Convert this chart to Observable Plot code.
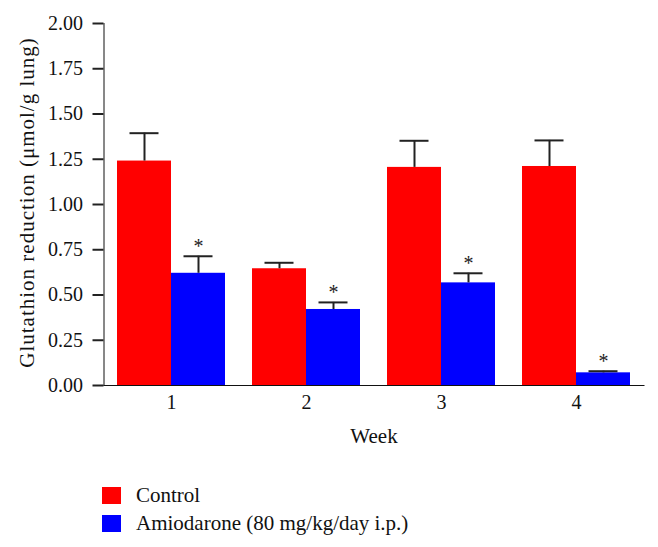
<!DOCTYPE html>
<html>
<head>
<meta charset="utf-8">
<script src="https://cdn.jsdelivr.net/npm/d3@7"></script>
<script src="https://cdn.jsdelivr.net/npm/@observablehq/plot@0.6"></script>
<style>
  body { margin: 0; background: #fff; font-family: "Liberation Serif", serif; }
  #chart svg g[aria-label*="axis"] path,
  #chart svg g[aria-label*="axis"] line { stroke: #222; stroke-width: 2px; }
  .legend { margin-left: 102px; padding-top: 21px; font-size: 21px; color: #111; }
  .legend .item { display: flex; align-items: center; height: 28px; }
  .legend .sw { width: 19px; height: 17px; margin-right: 15px; }
</style>
</head>
<body>
<div id="chart"></div>
<div class="legend" id="legend"></div>
<script>
const weeks = ["1", "2", "3", "4"];
const seriesNames = ["Control", "Amiodarone (80 mg/kg/day i.p.)"];
const seriesColors = ["#ff0000", "#0000ff"];
const controlMean = [1.24, 0.645, 1.205, 1.21];
const controlUpper = [1.394, 0.678, 1.352, 1.354];
const amioMean = [0.62, 0.42, 0.567, 0.07];
const amioUpper = [0.714, 0.459, 0.62, 0.079];
const yTicks = [0, 0.25, 0.5, 0.75, 1, 1.25, 1.5, 1.75, 2];
const yLabel = "Glutathion reduction (\u03bcmol/g lung)";
const xLabel = "Week";

const control = weeks.map((w, i) => ({week: w, mean: controlMean[i], upper: controlUpper[i]}));
const amio = weeks.map((w, i) => ({week: w, mean: amioMean[i], upper: amioUpper[i]}));

const W = 658, H = 460;
const mL = 103.5, mR = 14.5, mT = 23, mB = 75;
const step = (W - mL - mR) / (weeks.length - 0.2 + 2 * 0.1);
const band = step * 0.8;
const half = band / 2, cap = 29;
const inA = half / 2 - cap / 2, inB = band - (half / 2 + cap / 2);

const chart = Plot.plot({
  width: W, height: H,
  marginLeft: mL, marginRight: mR, marginTop: mT, marginBottom: mB,
  style: {fontFamily: "Liberation Serif", fontSize: "20px", color: "#111", background: "#fff"},
  x: {domain: weeks, paddingInner: 0.2, paddingOuter: 0.1, label: null, tickSize: 0, tickPadding: 9, line: true},
  y: {domain: [0, 2], ticks: yTicks, tickFormat: d3.format(".2f"), tickSize: 11, tickPadding: 10, label: null, line: true},
  marks: [
    Plot.barY(control, {x: "week", y: "mean", fill: seriesColors[0], insetRight: half}),
    Plot.barY(amio, {x: "week", y: "mean", fill: seriesColors[1], insetLeft: half}),
    Plot.ruleX(control, {x: "week", y1: "mean", y2: "upper", dx: -half / 2, stroke: "#222", strokeWidth: 2}),
    Plot.ruleX(amio, {x: "week", y1: "mean", y2: "upper", dx: half / 2, stroke: "#222", strokeWidth: 2}),
    Plot.tickY(control, {x: "week", y: "upper", insetLeft: inA, insetRight: inB, stroke: "#222", strokeWidth: 2}),
    Plot.tickY(amio, {x: "week", y: "upper", insetLeft: inB, insetRight: inA, stroke: "#222", strokeWidth: 2}),
    Plot.text(amio, {x: "week", y: "upper", dx: half / 2, dy: -10, text: () => "*", fontSize: 20, fill: "#222"}),
    Plot.text([yLabel], {frameAnchor: "left", textAnchor: "middle", rotate: -90, dx: -77, dy: -2, fontSize: 21, fill: "#111"}),
    Plot.text([xLabel], {frameAnchor: "bottom", dy: 57, fontSize: 21, fill: "#111"})
  ]
});
d3.select(chart).selectAll("text")
  .filter(function () { return this.textContent === yLabel; })
  .style("letter-spacing", "1px");
document.getElementById("chart").appendChild(chart);

const legend = document.getElementById("legend");
seriesNames.forEach((n, i) => {
  const item = document.createElement("div");
  item.className = "item";
  const sw = document.createElement("span");
  sw.className = "sw";
  sw.style.background = seriesColors[i];
  const t = document.createElement("span");
  t.textContent = n;
  item.appendChild(sw); item.appendChild(t);
  legend.appendChild(item);
});
</script>
</body>
</html>
